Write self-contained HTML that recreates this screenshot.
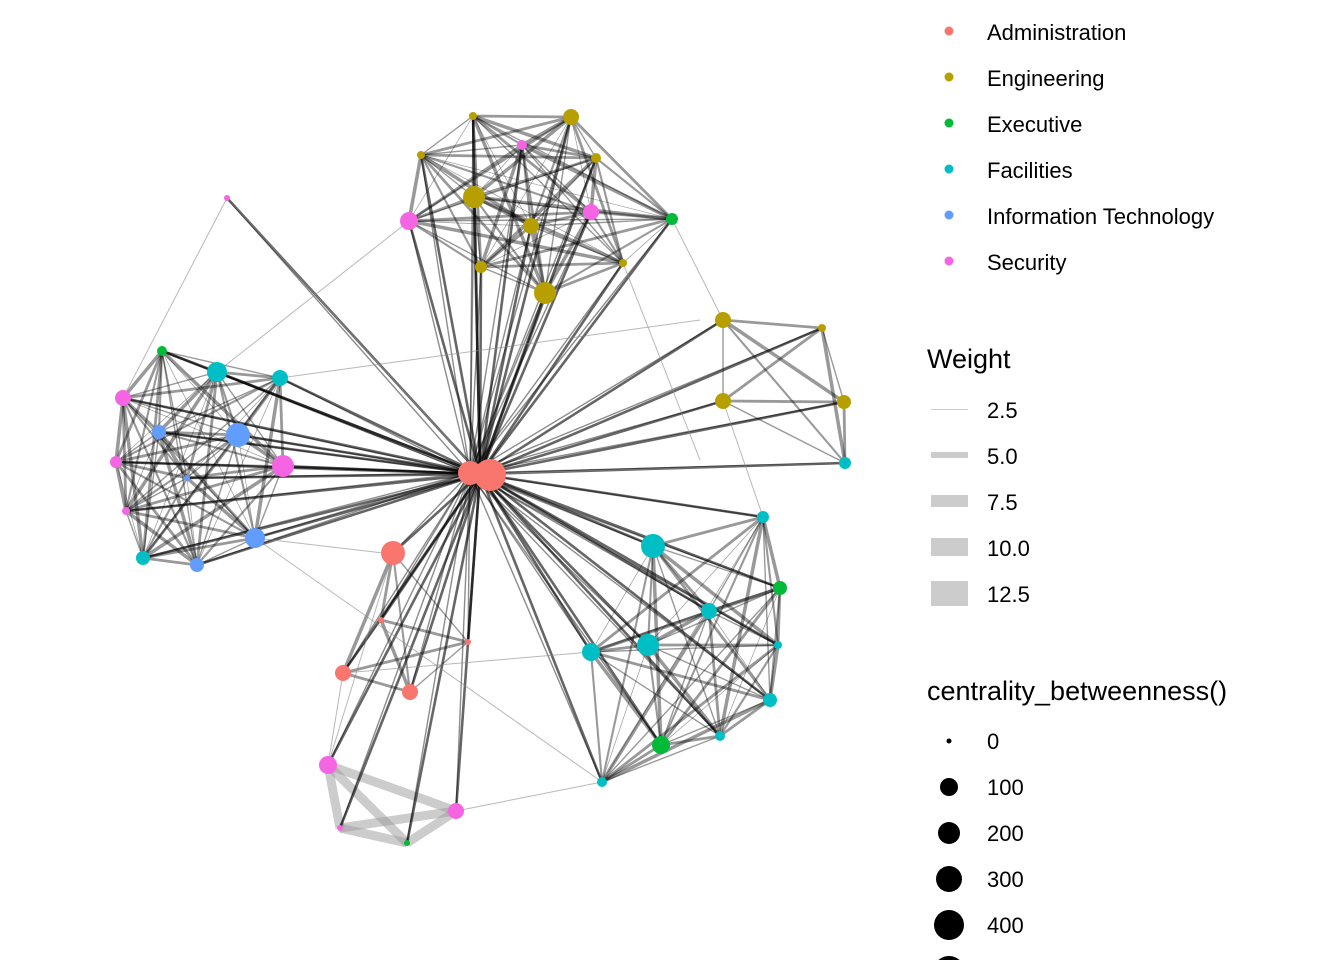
<!DOCTYPE html>
<html><head><meta charset="utf-8"><style>
html,body{margin:0;padding:0;background:#fff;}
svg{display:block;font-family:"Liberation Sans",Arial,sans-serif;}
</style></head><body>
<svg id="s" width="1344" height="960" viewBox="0 0 1344 960">
<g id="edges"></g><g id="nodes"></g>
<g font-size="22" fill="#000">
<circle cx="949" cy="31" r="4.5" fill="#F8766D"/><text x="987" y="40">Administration</text>
<circle cx="949" cy="77" r="4.5" fill="#B79F00"/><text x="987" y="86">Engineering</text>
<circle cx="949" cy="123" r="4.5" fill="#00BA38"/><text x="987" y="132">Executive</text>
<circle cx="949" cy="169" r="4.5" fill="#00BFC4"/><text x="987" y="178">Facilities</text>
<circle cx="949" cy="215" r="4.5" fill="#619CFF"/><text x="987" y="224">Information Technology</text>
<circle cx="949" cy="261" r="4.5" fill="#F564E3"/><text x="987" y="270">Security</text>
<text x="927" y="368" font-size="27">Weight</text>
<rect x="931" y="409" width="37" height="1" fill="#ccc"/><text x="987" y="418">2.5</text>
<rect x="931" y="452" width="37" height="6" fill="#ccc"/><text x="987" y="464">5.0</text>
<rect x="931" y="495" width="37" height="12" fill="#ccc"/><text x="987" y="510">7.5</text>
<rect x="931" y="538" width="37" height="18" fill="#ccc"/><text x="987" y="556">10.0</text>
<rect x="931" y="581" width="37" height="25" fill="#ccc"/><text x="987" y="602">12.5</text>
<text x="927" y="700" font-size="27">centrality_betweenness()</text>
<circle cx="949" cy="741" r="2.5"/><text x="987" y="749">0</text>
<circle cx="949" cy="787" r="9"/><text x="987" y="795">100</text>
<circle cx="949" cy="833" r="11"/><text x="987" y="841">200</text>
<circle cx="949" cy="879" r="13"/><text x="987" y="887">300</text>
<circle cx="949" cy="925" r="15"/><text x="987" y="933">400</text>
<circle cx="949" cy="972" r="16"/>
</g>
</svg>
<script>
var C={a:"#F8766D",e:"#B79F00",x:"#00BA38",f:"#00BFC4",i:"#619CFF",s:"#F564E3"};
var N=[
[393,553,12,'a',0],[381,620,3,'a',0],[468,642,3,'a',0],[343,673,8,'a',0],[410,692,8,'a',0],
[473,116,4,'e',1],[571,117,8,'e',1],[421,155,4,'e',1],[596,158,5,'e',1],[474,197,11,'e',1],[531,226,8,'e',1],[481,267,6,'e',1],[623,263,4,'e',1],[545,293,11,'e',1],
[522,145,5,'s',1],[409,221,9,'s',1],[591,212,8,'s',1],[672,219,6,'x',1],
[723,320,8,'e',2],[822,328,4,'e',2],[723,401,8,'e',2],[844,402,7,'e',2],[845,463,6,'f',2],
[763,517,6,'f',3],[653,546,12,'f',3],[709,611,8,'f',3],[780,588,7,'x',3],[778,645,4,'f',3],[648,645,11,'f',3],[591,652,9,'f',3],[770,700,7,'f',3],[720,736,5,'f',3],[661,745,9,'x',3],[602,782,5,'f',3],
[162,351,5,'x',4],[217,372,10,'f',4],[280,378,8,'f',4],[123,398,8,'s',4],[159,432,7,'i',4],[238,435,12,'i',4],[116,462,6,'s',4],[187,478,3,'i',4],[283,466,11,'s',4],[126,511,4,'s',4],[255,538,10,'i',4],[143,558,7,'f',4],[197,565,7,'i',4],
[227,198,3,'s',5],
[328,765,9,'s',6],[340,828,3,'s',6],[407,843,3,'x',6],[456,811,8,'s',6]
];
var E=document.getElementById('edges'),h='';
function L(a,b,c,w,o){h+='<line x1="'+a[0]+'" y1="'+a[1]+'" x2="'+b[0]+'" y2="'+b[1]+'" stroke="'+c+'" stroke-width="'+w+'" stroke-opacity="'+o+'"/>';}
var cen=[480,474];
N.forEach(function(a,i){N.forEach(function(b,j){ if(j>i&&a[4]==6&&b[4]==6){ L(a,b,'#999',9,0.5);} });});
N.forEach(function(a,i){N.forEach(function(b,j){ if(j>i&&a[4]==b[4]&&a[4]!=6){ var w=((i*7+j*3)%5)+1; L(a,b,'#000',w*0.7,0.4);} });});
N.forEach(function(n,i){ L(cen,n,'#000',2.6,0.6); L([470,473],n,'#000',1.4,0.45); });
var xs=[[227,198,123,398],[227,198,480,474],[409,221,217,372],[280,378,700,320],[255,538,602,782],[343,673,591,652],[456,811,602,782],[672,219,723,320],[763,517,723,401],[845,463,480,474],[383,553,255,538],[162,351,283,466],[623,263,700,460],[328,765,393,553],[328,765,343,673]];
xs.forEach(function(q){L([q[0],q[1]],[q[2],q[3]],'#888',1,0.6);});
E.innerHTML=h;
var g='';N.forEach(function(n){g+='<circle cx="'+n[0]+'" cy="'+n[1]+'" r="'+n[2]+'" fill="'+C[n[3]]+'"/>';});
g+='<circle cx="470" cy="473" r="12" fill="#F8766D"/><circle cx="490" cy="475" r="16" fill="#F8766D"/>';
document.getElementById('nodes').innerHTML=g;
</script>
</body></html>
